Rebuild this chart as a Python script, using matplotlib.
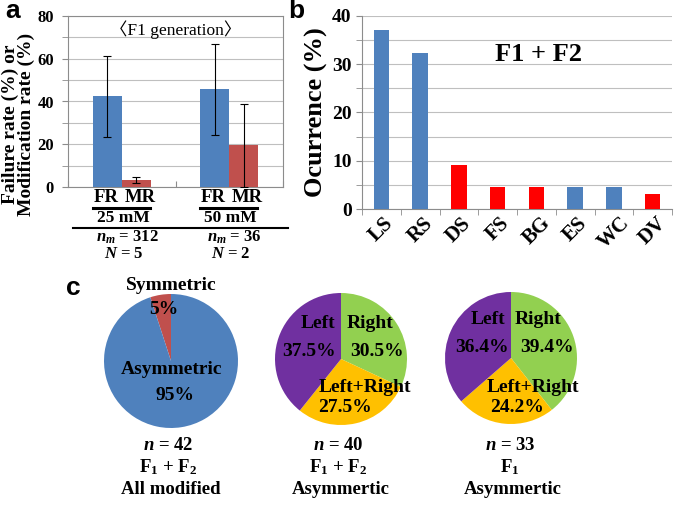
import numpy as np
import matplotlib
matplotlib.use("Agg")
import matplotlib.pyplot as plt
from matplotlib.lines import Line2D

plt.rcParams['font.family'] = ['Liberation Serif', 'Noto Sans CJK JP']
plt.rcParams['font.weight'] = 'bold'
plt.rcParams['mathtext.fontset'] = 'custom'
plt.rcParams['mathtext.rm'] = 'Liberation Serif:bold'
plt.rcParams['mathtext.it'] = 'Liberation Serif:bold:italic'
plt.rcParams['mathtext.bf'] = 'Liberation Serif:bold'

# ---- data ----
# panel a
conc_labels = ['25 mM', '50 mM']
fr_rate = [42.5, 46.0]
fr_low = [23.5, 24.5]
fr_high = [61.5, 67.0]
mr_rate = [3.3, 19.5]
mr_low = [2.0, 0.0]
mr_high = [4.7, 39.0]
nm_counts = [312, 36]
n_counts = [5, 2]

# panel b
defects = ['LS', 'RS', 'DS', 'FS', 'BG', 'ES', 'WC', 'DV']
occurrence = [37.0, 32.3, 9.2, 4.6, 4.6, 4.6, 4.6, 3.1]
defect_colors = ['#4F81BD', '#4F81BD', '#FF0000', '#FF0000', '#FF0000',
                 '#4F81BD', '#4F81BD', '#FF0000']

# panel c
sym_labels = ['Symmetric', 'Asymmetric']
sym_values = [5, 95]
side_labels = ['Right', 'Left+Right', 'Left']
side_f1f2 = [30.5, 27.5, 37.5]
side_f1 = [39.4, 24.2, 36.4]
pie_n = [42, 40, 33]

W, H = 679, 507
fig = plt.figure(figsize=(W / 100, H / 100), dpi=100)


def fx(x):
    return x / W


def fy(y):
    return 1 - y / H


def ftext(x, y, s, size=11, **kw):
    fig.text(fx(x), fy(y), s, ha='center', va='center', fontsize=size,
             fontweight='bold', **kw)


def fline(x0, x1, y, lw=1.5):
    fig.add_artist(Line2D([fx(x0), fx(x1)], [fy(y), fy(y)], color='black',
                          lw=lw, transform=fig.transFigure))


def axes_px(left, top, right, bottom):
    return fig.add_axes([fx(left), fy(bottom), (right - left) / W, (bottom - top) / H])


grid_c = '#BFBFBF'
spine_c = '#8C8C8C'

# ---- panel a ----
ax = axes_px(68, 16, 283, 187)
x = np.arange(len(conc_labels))
w = 0.27
fr_err = [np.array(fr_rate) - np.array(fr_low), np.array(fr_high) - np.array(fr_rate)]
mr_err = [np.array(mr_rate) - np.array(mr_low), np.array(mr_high) - np.array(mr_rate)]
ax.bar(x - w / 2, fr_rate, w, color='#4F81BD', yerr=fr_err, capsize=3,
       error_kw=dict(lw=0.8, capthick=0.8), zorder=3)
ax.bar(x + w / 2, mr_rate, w, color='#C0504D', yerr=mr_err, capsize=3,
       error_kw=dict(lw=0.8, capthick=0.8), zorder=3)
ax.set_xlim(-0.5, 1.5)
ax.set_ylim(0, 80)
ax.set_yticks([0, 20, 40, 60, 80])
ax.set_yticks([10, 30, 50, 70], minor=True)
ax.grid(axis='y', which='both', color=grid_c, lw=0.8, zorder=0)
ax.set_xticks([-0.5, 0.5, 1.5])
ax.set_xticklabels([])
ax.tick_params(axis='x', direction='in', length=4, color=spine_c)
ax.tick_params(axis='y', which='both', length=4, color=spine_c, labelsize=12, pad=6)
for s in ax.spines.values():
    s.set_color(spine_c)
for lab in ax.get_yticklabels():
    lab.set_fontweight('bold')
ax.text(0.5, 0.918, '〈F1 generation〉', transform=ax.transAxes, ha='center',
        va='center', fontsize=12.5, fontweight='normal')
fig.text(fx(18), fy(124), 'Failure rate (%) or\nModification rate (%)', rotation=90,
         ha='center', va='center', fontsize=14, fontweight='bold', linespacing=0.88)

group_cx = [122, 229]
for i, cx in enumerate(group_cx):
    ftext(cx - 16, 198, 'FR', 13.5)
    ftext(cx + 18, 198, 'MR', 13.5)
    fline(cx - 29, cx + 28, 208, lw=2.2)
    ftext(cx + 1, 218, conc_labels[i], 12.5)
    ftext(cx + 5, 237, '$n_m$ = %d' % nm_counts[i], 12)
    ftext(cx + 2, 254, '$N$ = %d' % n_counts[i], 12)
fline(73, 288, 228, lw=1.5)

# ---- panel b ----
bx = axes_px(362, 16, 672, 209)
xb = np.arange(len(defects))
bx.bar(xb, occurrence, 0.4, color=defect_colors, zorder=3)
bx.set_xlim(-0.5, len(defects) - 0.5)
bx.set_ylim(0, 40)
bx.set_yticks([0, 10, 20, 30, 40])
bx.set_yticks([5, 15, 25, 35], minor=True)
bx.grid(axis='y', which='both', color=grid_c, lw=0.8, zorder=0)
bx.set_xticks(xb)
bx.set_xticklabels(defects, rotation=45, ha='center', fontsize=15, fontweight='bold')
bx.set_xticks(np.arange(-0.5, len(defects)), minor=True)
bx.tick_params(axis='x', which='major', length=0, pad=3)
bx.tick_params(axis='x', which='minor', length=4, color=spine_c)
bx.tick_params(axis='y', which='both', length=4, color=spine_c, labelsize=14)
for lab in bx.get_yticklabels():
    lab.set_fontweight('bold')
bx.spines['top'].set_visible(False)
bx.spines['right'].set_visible(False)
bx.spines['left'].set_color(spine_c)
bx.spines['bottom'].set_color(spine_c)
bx.set_ylabel('Ocurrence (%)', fontsize=19, fontweight='bold', labelpad=3)
bx.text(0.57, 0.8, 'F1 + F2', transform=bx.transAxes, ha='center', va='center',
        fontsize=19, fontweight='bold')

# ---- panel c ----
def pie_axes(cx, cy, r):
    pa = axes_px(cx - r, cy - r, cx + r, cy + r)
    return pa


p1 = pie_axes(171, 361, 67)
p1.pie(sym_values, colors=['#C0504D', '#4F81BD'], startangle=90, counterclock=True,
       wedgeprops=dict(linewidth=0))
p2 = pie_axes(341, 359, 66)
p2.pie(side_f1f2, colors=['#92D050', '#FFC000', '#7030A0'], startangle=90,
       counterclock=False, wedgeprops=dict(linewidth=0))
p3 = pie_axes(511, 358, 66)
p3.pie(side_f1, colors=['#92D050', '#FFC000', '#7030A0'], startangle=90,
       counterclock=False, wedgeprops=dict(linewidth=0))
for pa in (p1, p2, p3):
    pa.set_xlim(-1, 1)
    pa.set_ylim(-1, 1)
    pa.set_aspect('equal')
    pa.axis('off')

pf = 14
ftext(171, 286, sym_labels[0], pf)
ftext(164, 309, '%d%%' % sym_values[0], pf)
ftext(172, 370, sym_labels[1], pf)
ftext(175, 395, '%d%%' % sym_values[1], pf)

ftext(318, 323, side_labels[2], pf)
ftext(309, 352, '%.1f%%' % side_f1f2[2], pf)
ftext(370, 323, side_labels[0], pf)
ftext(377, 352, '%.1f%%' % side_f1f2[0], pf)
ftext(365, 388, side_labels[1], pf)
ftext(345, 408, '%.1f%%' % side_f1f2[1], pf)

ftext(488, 320, side_labels[2], pf)
ftext(482, 348, '%.1f%%' % side_f1[2], pf)
ftext(538, 320, side_labels[0], pf)
ftext(547, 348, '%.1f%%' % side_f1[0], pf)
ftext(533, 388, side_labels[1], pf)
ftext(517, 408, '%.1f%%' % side_f1[1], pf)

cf = 13.5
captions = [('F$_1$ + F$_2$', 'All modified'),
            ('F$_1$ + F$_2$', 'Asymmertic'),
            ('F$_1$', 'Asymmertic')]
cap_x = [168, 338, 510]
for i, cx in enumerate(cap_x):
    ftext(cx, 445, '$n$ = %d' % pie_n[i], cf)
    ftext(cx, 467, captions[i][0], cf)
    ftext(cx + 3, 490, captions[i][1], cf)

# panel letters
fig.text(fx(5), fy(11), 'a', fontsize=19, fontweight='bold', family='Liberation Sans',
         ha='left', va='center')
fig.text(fx(288), fy(11), 'b', fontsize=19, fontweight='bold', family='Liberation Sans',
         ha='left', va='center')
fig.text(fx(66), fy(288), 'c', fontsize=19, fontweight='bold', family='Liberation Sans',
         ha='left', va='center')

fig.savefig('out.png', dpi=100)
